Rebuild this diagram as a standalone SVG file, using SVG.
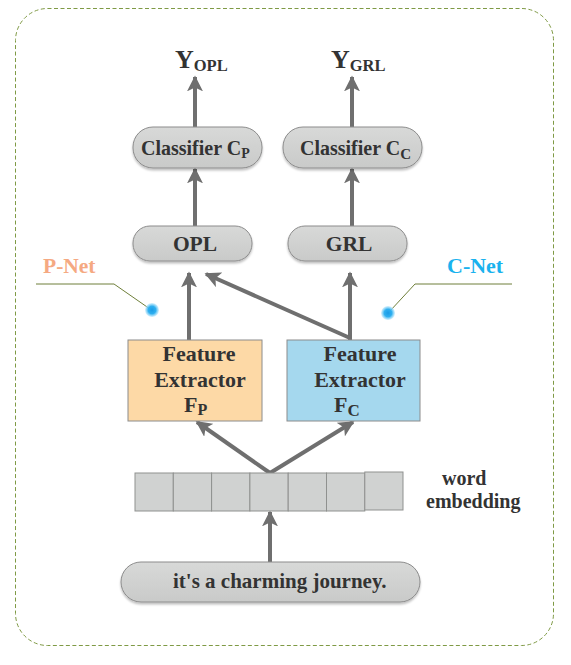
<svg xmlns="http://www.w3.org/2000/svg" width="571" height="665" viewBox="0 0 571 665">
<defs>
<marker id="ah" viewBox="0 0 10 10" refX="9" refY="5" markerWidth="4" markerHeight="4" orient="auto" markerUnits="strokeWidth">
<path d="M0,0 L10,5 L0,10 L2.5,5 Z" fill="#6f6f6f"/>
</marker>
<linearGradient id="pg" x1="0" y1="0" x2="0" y2="1">
<stop offset="0" stop-color="#d8d9d8"/>
<stop offset="1" stop-color="#c9cac9"/>
</linearGradient>
<radialGradient id="dot">
<stop offset="0" stop-color="#1a9be6"/>
<stop offset="0.55" stop-color="#2fb0f0"/>
<stop offset="1" stop-color="#b8e6fb" stop-opacity="0.6"/>
</radialGradient>
<filter id="sh" x="-10%" y="-20%" width="120%" height="150%">
<feDropShadow dx="0" dy="2" stdDeviation="1" flood-color="#000" flood-opacity="0.25"/>
</filter>
</defs>
<style>
.t{font-family:"Liberation Serif","Times New Roman",serif;font-weight:bold;fill:#333}
.pill{fill:url(#pg);stroke:#8c8c8c;stroke-width:1;filter:url(#sh)}
.arr{stroke:#6f6f6f;stroke-width:4;fill:none;marker-end:url(#ah)}
.cell{fill:#d0d2d1;stroke:#8f918f;stroke-width:1}
.lead{stroke:#6f7f3a;stroke-width:1;fill:none}
</style>
<rect x="15.5" y="8.5" width="538" height="637" rx="32" ry="32" fill="none" stroke="#7f9a45" stroke-width="1" stroke-dasharray="4,2.5"/>

<g id="connectors">
<line class="arr" x1="195" y1="127" x2="195" y2="77"/>
<line class="arr" x1="352" y1="127" x2="352" y2="77"/>
<line class="arr" x1="195" y1="226" x2="195" y2="169"/>
<line class="arr" x1="352" y1="226" x2="352" y2="169"/>
<line class="arr" x1="189" y1="340" x2="189" y2="273"/>
<line class="arr" x1="350" y1="340" x2="350" y2="273"/>
<line class="arr" x1="350" y1="338" x2="206" y2="274"/>
<line class="arr" x1="270" y1="473" x2="197" y2="422"/>
<line class="arr" x1="270" y1="473" x2="353" y2="422"/>
<line class="arr" x1="270" y1="562" x2="270" y2="512"/>
</g>

<g id="y_opl"><text class="t" x="175" y="68" font-size="26">Y<tspan font-size="16.5" dy="3">OPL</tspan></text></g>
<g id="y_grl"><text class="t" x="331" y="68" font-size="26">Y<tspan font-size="16.5" dy="3">GRL</tspan></text></g>

<g id="classifier_p">
<rect class="pill" x="133" y="127" width="129" height="41" rx="20"/>
<text class="t" x="141" y="155" font-size="20">Classifier C<tspan font-size="14" dy="3">P</tspan></text>
</g>
<g id="classifier_c">
<rect class="pill" x="283" y="127" width="139" height="41" rx="20"/>
<text class="t" x="300" y="155" font-size="20">Classifier C<tspan font-size="15" dy="4">C</tspan></text>
</g>

<g id="opl">
<rect class="pill" x="133" y="226" width="119" height="35" rx="17"/>
<text class="t" x="195" y="251" font-size="21.5" text-anchor="middle">OPL</text>
</g>
<g id="grl">
<rect class="pill" x="288" y="226" width="119" height="35" rx="17"/>
<text class="t" x="349" y="251" font-size="21.5" text-anchor="middle">GRL</text>
</g>

<g id="p_net">
<text class="t" x="43" y="273" font-size="21.5" style="fill:#f5a982">P-Net</text>
<polyline class="lead" points="36,284 114,284 150,309"/>
<circle cx="152" cy="310" r="7" fill="url(#dot)"/>
</g>
<g id="c_net">
<text class="t" x="447" y="273" font-size="22" style="fill:#1ab2ee">C-Net</text>
<polyline class="lead" points="512,284 415,284 390,311"/>
<circle cx="388" cy="313" r="7" fill="url(#dot)"/>
</g>

<g id="feature_p">
<rect x="128" y="340" width="134" height="81" fill="#fdd9a6" stroke="#8c8c8c" stroke-width="1"/>
<text class="t" x="199" y="361" font-size="22" text-anchor="middle">Feature</text>
<text class="t" x="200" y="387" font-size="22" text-anchor="middle">Extractor</text>
<text class="t" x="184" y="412" font-size="22">F<tspan font-size="16" dy="3">P</tspan></text>
</g>
<g id="feature_c">
<rect x="287" y="340" width="133" height="81" fill="#a5d8ee" stroke="#8c8c8c" stroke-width="1"/>
<text class="t" x="360" y="361" font-size="22" text-anchor="middle">Feature</text>
<text class="t" x="360" y="387" font-size="22" text-anchor="middle">Extractor</text>
<text class="t" x="334" y="412" font-size="22">F<tspan font-size="17" dy="4">C</tspan></text>
</g>

<g id="embedding">
<rect class="cell" x="135" y="473" width="38.3" height="38"/>
<rect class="cell" x="173.3" y="473" width="38.3" height="38"/>
<rect class="cell" x="211.6" y="473" width="38.3" height="38"/>
<rect class="cell" x="249.9" y="473" width="38.3" height="38"/>
<rect class="cell" x="288.2" y="473" width="38.3" height="38"/>
<rect class="cell" x="326.5" y="473" width="38.3" height="38"/>
<rect class="cell" x="364.8" y="472" width="38.2" height="38"/>
<text class="t" x="442" y="485" font-size="20">word</text>
<text class="t" x="426" y="508" font-size="20">embedding</text>
</g>

<g id="sentence">
<rect class="pill" x="121" y="562" width="299" height="40" rx="20"/>
<text class="t" x="173" y="588" font-size="21">it's a charming journey.</text>
</g>
</svg>
